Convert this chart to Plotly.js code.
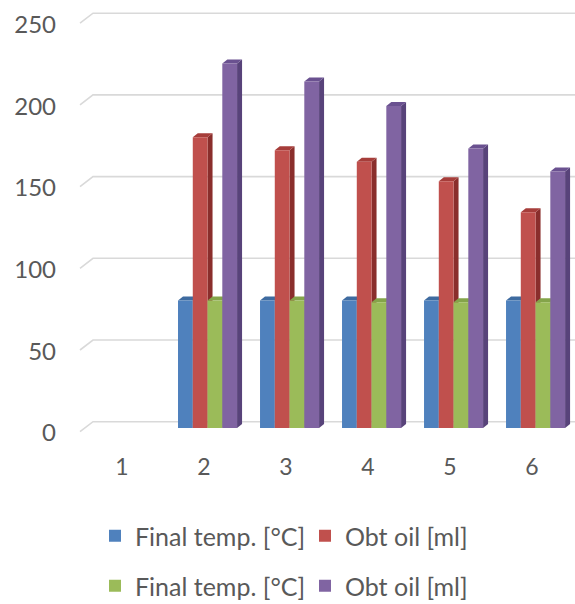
<!DOCTYPE html>
<html>
<head>
<meta charset="utf-8">
<script src="https://cdn.plot.ly/plotly-3.0.1.min.js"></script>
<style>
  html, body { margin: 0; padding: 0; background: #ffffff; }
  #chart { width: 575px; height: 604px; }
</style>
</head>
<body>
<div id="chart"></div>
<script>
// Test runs 1-6; run 1 has no recorded values
const categories = [1, 2, 3, 4, 5, 6];
const categoryLabels = ['1', '2', '3', '4', '5', '6'];
const finalTempA = [null, 78, 78, 78, 78, 78];
const obtOilA = [null, 178, 170, 163, 151, 132];
const finalTempB = [null, 78, 78, 77, 77, 77];
const obtOilB = [null, 223, 212, 197, 171, 157];
const seriesNames = ['Final temp. [°C]', 'Obt oil [ml]', 'Final temp. [°C]', 'Obt oil [ml]'];
const yTicks = [0, 50, 100, 150, 200, 250];

// Page geometry (pixels)
const W = 575, H = 604;
const plotLeft = 93, plotRight = 575;
const baseY = 428, topY = 19.5;          // y = 0 and y = 250 of the column axis
const yMax = 250;
const pxPerUnitY = (baseY - topY) / yMax;
const padBottomPx = 12, padTopPx = 10;   // room so shifted tick labels stay inside the axis
const yLow = -padBottomPx / pxPerUnitY, yHigh = yMax + padTopPx / pxPerUnitY;
const xMin = 0.6463, xMax = 6.524;
const pxPerUnitX = (plotRight - plotLeft) / (xMax - xMin);

// 3-D look: depth of each column and the back wall offset
const depthPx = 5, risePx = 4;
const dx = depthPx / pxPerUnitX, dy = risePx / pxPerUnitY;
const wallShiftPx = 6.3;                 // back-wall grid sits above the column bases
const floorDx = 13, floorDy = 10;        // slanted floor edge at the left of each grid line

const barWidth = 0.18;
const groupStart = -0.317;

const colors = ['#4F81BD', '#C0504D', '#9BBB59', '#8064A2'];
const sideColors = ['#34577F', '#8A2E2C', '#6B8638', '#58437A'];
const topColors = ['#3E6BA0', '#A63D3A', '#84A44A', '#6A5190'];

const seriesValues = [finalTempA, obtOilA, finalTempB, obtOilB];
const legendIds = ['legend', 'legend', 'legend2', 'legend2'];

const traces = seriesValues.map((vals, i) => ({
  type: 'bar',
  x: categories,
  y: vals,
  name: seriesNames[i],
  legend: legendIds[i],
  width: barWidth,
  offset: groupStart + i * barWidth,
  marker: { color: colors[i], line: { width: 0 } },
  hoverinfo: 'x+y+name'
}));

const px2paperX = px => px / W;
const px2paperY = py => 1 - py / H;

const shapes = [];

// Back-wall grid lines with the slanted floor edge on the left
yTicks.forEach(t => {
  const gy = baseY - t * pxPerUnitY - wallShiftPx;
  shapes.push({
    type: 'path', xref: 'paper', yref: 'paper', layer: 'below',
    path: `M ${px2paperX(plotLeft - floorDx)},${px2paperY(gy + floorDy)} ` +
          `L ${px2paperX(plotLeft)},${px2paperY(gy)} L ${px2paperX(plotRight)},${px2paperY(gy)}`,
    line: { color: '#D9D9D9', width: 1.6 }
  });
});

// Side and top faces of every column, drawn between grid and columns
seriesValues.forEach((vals, i) => {
  vals.forEach((v, k) => {
    if (v === null) return;
    const xl = categories[k] + groupStart + i * barWidth;
    const xr = xl + barWidth;
    shapes.push({
      type: 'path', xref: 'x', yref: 'y', layer: 'between',
      path: `M ${xr},0 L ${xr + dx},${dy} L ${xr + dx},${v + dy} L ${xr},${v} Z`,
      fillcolor: sideColors[i], line: { width: 0 }
    });
    shapes.push({
      type: 'path', xref: 'x', yref: 'y', layer: 'between',
      path: `M ${xl},${v} L ${xl + dx},${v + dy} L ${xr + dx},${v + dy} L ${xr},${v} Z`,
      fillcolor: topColors[i], line: { width: 0 }
    });
  });
});

const textFont = { family: 'Lato, "Noto Sans", sans-serif', color: '#595959' };

const legendCommon = {
  orientation: 'h',
  xanchor: 'left', yanchor: 'middle',
  x: px2paperX(95),
  font: Object.assign({ size: 25 }, textFont),
  entrywidth: 165, entrywidthmode: 'pixels',
  bgcolor: 'rgba(0,0,0,0)',
  itemclick: false, itemdoubleclick: false
};

const layout = {
  width: W, height: H,
  margin: { l: 0, r: 0, t: 0, b: 0, autoexpand: false },
  paper_bgcolor: '#ffffff',
  plot_bgcolor: 'rgba(0,0,0,0)',
  barmode: 'overlay',
  showlegend: true,
  xaxis: {
    domain: [px2paperX(plotLeft), px2paperX(plotRight)],
    range: [xMin, xMax],
    tickvals: categories, ticktext: categoryLabels,
    showgrid: false, zeroline: false, showline: false,
    ticks: '', ticklabelstandoff: 11,
    tickfont: Object.assign({ size: 23 }, textFont),
    fixedrange: true
  },
  yaxis: {
    domain: [px2paperY(baseY + padBottomPx), px2paperY(topY - padTopPx)],
    range: [yLow, yHigh],
    tickvals: yTicks,
    showgrid: false, zeroline: false, showline: false,
    ticks: '', ticklabelstandoff: 36, ticklabelshift: 5,
    tickfont: Object.assign({ size: 24 }, textFont),
    fixedrange: true
  },
  legend: Object.assign({}, legendCommon, { y: px2paperY(536) }),
  legend2: Object.assign({}, legendCommon, { y: px2paperY(586) }),
  shapes: shapes
};

Plotly.newPlot('chart', traces, layout, { displayModeBar: false, staticPlot: true });
</script>
</body>
</html>
